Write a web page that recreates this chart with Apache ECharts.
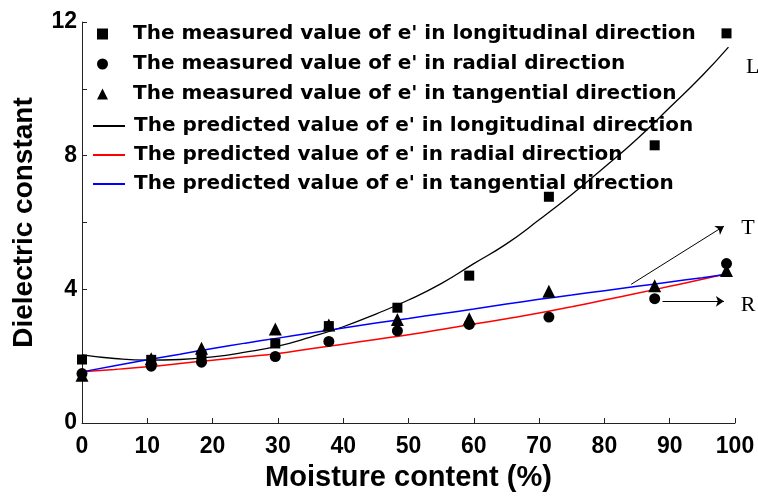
<!DOCTYPE html>
<html><head><meta charset="utf-8">
<script src="https://cdn.jsdelivr.net/npm/echarts@6/dist/echarts.min.js"></script>
<style>html,body{margin:0;padding:0;background:#fff}#c{width:758px;height:497px}</style>
</head><body><div id="c"></div>
<script>
// Measured data (moisture %, dielectric constant)
var measuredX = [0, 10.6, 18.3, 29.6, 37.8, 48.3, 59.3, 71.5, 87.7, 98.7];
var measuredL = [1.90, 1.89, 2.02, 2.38, 2.90, 3.45, 4.41, 6.77, 8.31, 11.66];
var measuredR = [1.48, 1.70, 1.82, 1.99, 2.44, 2.76, 2.95, 3.17, 3.72, 4.77];
var measuredT = [1.43, 1.92, 2.24, 2.81, 2.93, 3.10, 3.12, 3.94, 4.11, 4.56];
// Predicted curves
var predX = [0, 5, 10, 15, 20, 25, 30, 35, 40, 45, 50, 55, 60, 65, 70, 75, 80, 85, 90, 95, 99];
var predL = [2.04, 1.93, 1.88, 1.90, 1.98, 2.12, 2.30, 2.57, 2.88, 3.26, 3.68, 4.17, 4.77, 5.36, 6.08, 6.84, 7.65, 8.50, 9.44, 10.4, 11.25];
var predR = [1.53, 1.60, 1.68, 1.78, 1.88, 1.98, 2.08, 2.22, 2.36, 2.50, 2.64, 2.80, 2.96, 3.12, 3.29, 3.48, 3.68, 3.88, 4.09, 4.30, 4.48];
var predT = [1.53, 1.71, 1.89, 2.06, 2.23, 2.39, 2.54, 2.69, 2.84, 2.99, 3.13, 3.27, 3.41, 3.56, 3.70, 3.83, 3.96, 4.09, 4.22, 4.35, 4.46];
var xTicks = {min: 0, max: 100, interval: 10};
var yTicks = {min: 0, max: 12, interval: 2, labelEvery: 4};
var names = [
  "The measured value of e' in longitudinal direction",
  "The measured value of e' in radial direction",
  "The measured value of e' in tangential direction",
  "The predicted value of e' in longitudinal direction",
  "The predicted value of e' in radial direction",
  "The predicted value of e' in tangential direction"
];
// annotation anchors in data space
var arrowT = [[84.1, 4.15], [98.3, 5.89]];
var arrowR = [[88.9, 3.64], [98.3, 3.64]];
var labels = [{t: 'L', at: [102.7, 10.65]}, {t: 'T', at: [102.0, 5.84]}, {t: 'R', at: [102.0, 3.51]}];

function zip(a, b) { return a.map(function (v, i) { return [v, b[i]]; }); }

var chart = echarts.init(document.getElementById('c'));
function legendText(pad) {
  return {fontFamily: 'DejaVu Sans', fontWeight: 'bold', fontSize: 20, color: '#000', lineHeight: 20, padding: [0, 0, 0, pad]};
}
var axisFont = {fontFamily: 'Liberation Sans', fontWeight: 'bold', fontSize: 23, color: '#000'};
var option = {
  animation: false,
  backgroundColor: '#fff',
  grid: {left: 82, right: 23, top: 22, bottom: 69},
  legend: [
    {data: names.slice(0, 3), orient: 'vertical', left: 97, top: 24, padding: 0, itemWidth: 11, itemHeight: 11,
     itemGap: 10, textStyle: legendText(20)},
    {data: names.slice(3), orient: 'vertical', left: 92, top: 116, padding: 0, itemWidth: 32, itemHeight: 11,
     itemGap: 9, textStyle: legendText(4), itemStyle: {opacity: 0}}
  ],
  xAxis: {
    type: 'value', min: xTicks.min, max: xTicks.max, interval: xTicks.interval,
    name: 'Moisture content (%)', nameLocation: 'middle', nameGap: 40,
    nameTextStyle: {fontFamily: 'Liberation Sans', fontWeight: 'bold', fontSize: 29, color: '#000'},
    axisLine: {lineStyle: {color: '#222', width: 1}},
    axisTick: {inside: true, length: 5, lineStyle: {color: '#222'}},
    axisLabel: Object.assign({margin: 12}, axisFont),
    splitLine: {show: false}
  },
  yAxis: {
    type: 'value', min: yTicks.min, max: yTicks.max, interval: yTicks.interval,
    name: 'Dielectric constant', nameLocation: 'middle', nameGap: 44,
    nameTextStyle: {fontFamily: 'Liberation Sans', fontWeight: 'bold', fontSize: 28, color: '#000'},
    axisLine: {show: true, lineStyle: {color: '#222', width: 1}},
    axisTick: {inside: true, length: 5, lineStyle: {color: '#222'}},
    axisLabel: Object.assign({margin: 5, formatter: function (v) { return v % yTicks.labelEvery === 0 ? String(v) : ''; }}, axisFont),
    splitLine: {show: false}
  },
  series: [
    {name: names[0], type: 'scatter', symbol: 'rect', symbolSize: 10, itemStyle: {color: '#000', opacity: 1}, data: zip(measuredX, measuredL), z: 5},
    {name: names[1], type: 'scatter', symbol: 'circle', symbolSize: 11, itemStyle: {color: '#000', opacity: 1}, data: zip(measuredX, measuredR), z: 5},
    {name: names[2], type: 'scatter', symbol: 'triangle', symbolSize: 13, itemStyle: {color: '#000', opacity: 1}, data: zip(measuredX, measuredT), z: 5},
    {name: names[3], type: 'line', smooth: true, symbol: 'none', lineStyle: {color: '#000', width: 1.3}, itemStyle: {color: '#000'}, data: zip(predX, predL), z: 3,
     markLine: {silent: true, symbol: ['none', 'arrow'], symbolSize: 8, label: {show: false}, lineStyle: {color: '#000', width: 1, type: 'solid'},
       data: [[{coord: arrowT[0]}, {coord: arrowT[1]}], [{coord: arrowR[0]}, {coord: arrowR[1]}]]}},
    {name: names[4], type: 'line', smooth: true, symbol: 'none', lineStyle: {color: '#ff0000', width: 1.5}, itemStyle: {color: '#ff0000'}, data: zip(predX, predR), z: 3},
    {name: names[5], type: 'line', smooth: true, symbol: 'none', lineStyle: {color: '#0000ff', width: 1.5}, itemStyle: {color: '#0000ff'}, data: zip(predX, predT), z: 3}
  ]
};
chart.setOption(option);
var g = labels.map(function (l) {
  var p = chart.convertToPixel({gridIndex: 0}, l.at);
  return {type: 'text', x: p[0], y: p[1], style: {text: l.t, fontFamily: 'Liberation Serif', fontSize: 22, fill: '#000', align: 'center', verticalAlign: 'middle'}};
});
chart.setOption({graphic: g});
</script></body></html>
